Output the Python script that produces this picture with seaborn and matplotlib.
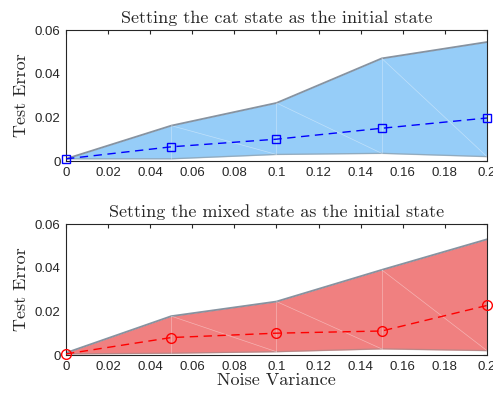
import numpy as np
import pandas as pd
import matplotlib
matplotlib.use("Agg")
import matplotlib.pyplot as plt
import seaborn as sns

# Noise levels and test error statistics
noise = [0.0, 0.05, 0.10, 0.15, 0.20]

cat_mean = [0.0010, 0.0065, 0.0100, 0.0150, 0.0197]
cat_upper = [0.0010, 0.0162, 0.0266, 0.0470, 0.0545]
cat_lower = [0.0010, 0.0010, 0.0030, 0.0035, 0.0020]

mixed_mean = [0.0005, 0.0080, 0.0100, 0.0110, 0.0227]
mixed_upper = [0.0010, 0.0178, 0.0245, 0.0390, 0.0530]
mixed_lower = [0.0005, 0.0008, 0.0015, 0.0028, 0.0020]

titles = ["Setting the cat state as the initial state",
          "Setting the mixed state as the initial state"]
x_ticks = [0, 0.02, 0.04, 0.06, 0.08, 0.1, 0.12, 0.14, 0.16, 0.18, 0.2]
y_ticks = [0, 0.02, 0.04, 0.06]

sns.set_theme(style="white")
plt.rcParams["font.family"] = ["Liberation Sans", "DejaVu Sans"]

fig = plt.figure(figsize=(4.93, 3.96), dpi=100)
ax_top = fig.add_axes([0.1339, 0.5934, 0.8539, 0.3308])
ax_bot = fig.add_axes([0.1339, 0.1035, 0.8539, 0.3308])

panels = [
    (ax_top, cat_mean, cat_upper, cat_lower, "#96cdf8", "#0000ff", "s", titles[0]),
    (ax_bot, mixed_mean, mixed_upper, mixed_lower, "#f08080", "#ff0000", "o", titles[1]),
]

serif = "cmr10"

for ax, mean, upper, lower, fill, line, marker, title in panels:
    ax.fill_between(noise, lower, upper, color=fill, linewidth=0, zorder=1)
    ax.plot(noise, upper, color="#7a8796", lw=1.3, zorder=2, alpha=0.9)
    ax.plot(noise, lower, color="#8a8a8a", lw=1.0, zorder=2, alpha=0.5)
    # faint patch edges of the shaded band
    for i in range(1, len(noise) - 1):
        ax.plot([noise[i], noise[i]], [lower[i], upper[i]], color="white",
                lw=0.5, alpha=0.4, zorder=2)
    for i in range(1, len(noise) - 1):
        ax.plot([noise[i], noise[i + 1]], [upper[i], lower[i + 1]], color="white",
                lw=0.5, alpha=0.4, zorder=2)

    df = pd.DataFrame({"noise": noise, "err": mean})
    sns.lineplot(data=df, x="noise", y="err", ax=ax, color=line, lw=1.0,
                 marker=marker, markersize=6 if marker == "s" else 7,
                 markerfacecolor="none", markeredgecolor=line, markeredgewidth=1.0,
                 zorder=3, clip_on=False)
    ax.lines[-1].set_linestyle((0, (6, 4)))

    ax.set_xlim(0, 0.2)
    ax.set_ylim(0, 0.06)
    ax.set_xticks(x_ticks)
    ax.set_xticklabels([f"{t:g}" for t in x_ticks])
    ax.set_yticks(y_ticks)
    ax.set_yticklabels([f"{t:g}" for t in y_ticks])
    ax.tick_params(direction="in", length=3, width=0.8, colors="#262626",
                   labelsize=9.5, top=True, right=True, pad=4)
    for s in ax.spines.values():
        s.set_color("#262626")
        s.set_linewidth(0.8)
    ax.set_title(title, fontfamily=serif, fontsize=13, pad=5)
    ax.set_ylabel("Test Error", fontfamily=serif, fontsize=13, labelpad=4)
    ax.set_xlabel("")

ax_bot.set_xlabel("Noise Variance", fontfamily=serif, fontsize=13, labelpad=0)

fig.savefig("out.png", dpi=100)
